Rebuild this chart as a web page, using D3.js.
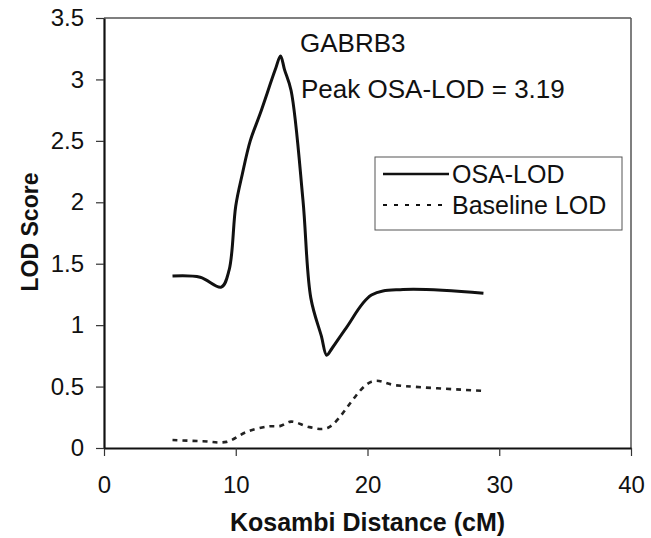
<!DOCTYPE html>
<html>
<head>
<meta charset="utf-8">
<script src="https://cdn.jsdelivr.net/npm/d3@7"></script>
<style>
  body { margin: 0; background: #fff; overflow: hidden; }
  svg { display: block; }
  text { font-family: "Liberation Sans", Arial, sans-serif; fill: #111; }
</style>
</head>
<body>
<div id="chart"></div>
<script>
// values
var osaX = [5.2, 7.3, 8.9, 9.5, 10.0, 10.5, 11.1, 11.85, 13.0, 13.4, 13.7, 14.2, 15.1, 15.7, 16.5, 16.9, 17.3, 18.4, 20.3, 22.7, 28.8];
var osaY = [1.40, 1.39, 1.31, 1.45, 1.97, 2.23, 2.50, 2.72, 3.08, 3.19, 3.08, 2.91, 2.02, 1.22, 0.91, 0.755, 0.81, 0.98, 1.245, 1.29, 1.26];
var baseX = [5.2, 7.5, 9.3, 10.8, 12.4, 13.4, 14.2, 15.6, 17.0, 20.3, 22.2, 28.8];
var baseY = [0.065, 0.055, 0.05, 0.13, 0.175, 0.18, 0.215, 0.17, 0.165, 0.54, 0.51, 0.465];
var xTicks = [0, 10, 20, 30, 40];
var yTicks = [0, 0.5, 1, 1.5, 2, 2.5, 3, 3.5];
var seriesNames = ['OSA-LOD', 'Baseline LOD'];

var W = 651, H = 538;
var margin = { top: 18, right: 20, bottom: 90, left: 104 };
var iw = W - margin.left - margin.right,
    ih = H - margin.top - margin.bottom;

var svg = d3.select('#chart').append('svg')
    .attr('width', W)
    .attr('height', H);

var g = svg.append('g')
    .attr('transform', 'translate(' + margin.left + ',' + margin.top + ')');

var x = d3.scaleLinear().domain([0, 40]).range([0, iw]);
var y = d3.scaleLinear().domain([0, 3.5]).range([ih, 0]);

// frame (top + right are lighter)
g.append('line').attr('x1', 0).attr('x2', iw).attr('y1', 0).attr('y2', 0)
    .attr('stroke', '#555').attr('stroke-width', 1.5);
g.append('line').attr('x1', iw).attr('x2', iw).attr('y1', 0).attr('y2', ih)
    .attr('stroke', '#555').attr('stroke-width', 1.5);

var xAxis = g.append('g')
    .attr('transform', 'translate(0,' + ih + ')')
    .call(d3.axisBottom(x).tickValues(xTicks).tickSize(8).tickPadding(20).tickSizeOuter(0));
var yAxis = g.append('g')
    .call(d3.axisLeft(y).tickValues(yTicks).tickSize(8).tickPadding(12).tickSizeOuter(0)
        .tickFormat(function(d) { return String(d); }));

[xAxis, yAxis].forEach(function(a) {
    a.select('.domain').attr('stroke', '#111').attr('stroke-width', 2.2);
    a.selectAll('.tick line').attr('stroke', '#333').attr('stroke-width', 1.2);
    a.selectAll('.tick text').style('font-size', '24px').attr('fill', '#111');
});
xAxis.selectAll('.tick text').attr('dy', '0.71em');

// axis titles
svg.append('text')
    .attr('x', margin.left + iw / 2)
    .attr('y', 531)
    .attr('text-anchor', 'middle')
    .style('font-size', '25px')
    .style('font-weight', 'bold')
    .text('Kosambi Distance (cM)');
svg.append('text')
    .attr('transform', 'translate(38,232) rotate(-90)')
    .attr('text-anchor', 'middle')
    .style('font-size', '23px')
    .style('font-weight', 'bold')
    .text('LOD Score');

function mkLine(xs, ys) {
    return d3.line()
        .x(function(d, i) { return x(xs[i]); })
        .y(function(d) { return y(d); })
        .curve(d3.curveCatmullRom.alpha(0.5))(ys);
}

g.append('path')
    .attr('d', mkLine(osaX, osaY))
    .attr('fill', 'none')
    .attr('stroke', '#111')
    .attr('stroke-width', 3);

g.append('path')
    .attr('d', mkLine(baseX, baseY))
    .attr('fill', 'none')
    .attr('stroke', '#222')
    .attr('stroke-width', 2.6)
    .attr('stroke-dasharray', '5,5');

// annotations
svg.append('text').attr('x', 300).attr('y', 52)
    .style('font-size', '26px').text('GABRB3');
svg.append('text').attr('x', 301).attr('y', 98)
    .style('font-size', '26px').text('Peak OSA-LOD = 3.19');

// legend
var lg = svg.append('g').attr('transform', 'translate(375,157)');
lg.append('rect').attr('width', 247).attr('height', 73)
    .attr('fill', '#fff').attr('stroke', '#555').attr('stroke-width', 1);
var items = lg.selectAll('g.item').data(seriesNames).enter().append('g')
    .attr('transform', function(d, i) { return 'translate(0,' + (17 + i * 31) + ')'; });
items.append('line')
    .attr('x1', 8).attr('x2', 74)
    .attr('stroke', '#111')
    .attr('stroke-width', function(d, i) { return i ? 2 : 2.5; })
    .attr('stroke-dasharray', function(d, i) { return i ? '4,7' : null; });
items.append('text')
    .attr('x', 77).attr('y', 9)
    .style('font-size', '25px')
    .text(function(d) { return d; });
</script>
</body>
</html>
